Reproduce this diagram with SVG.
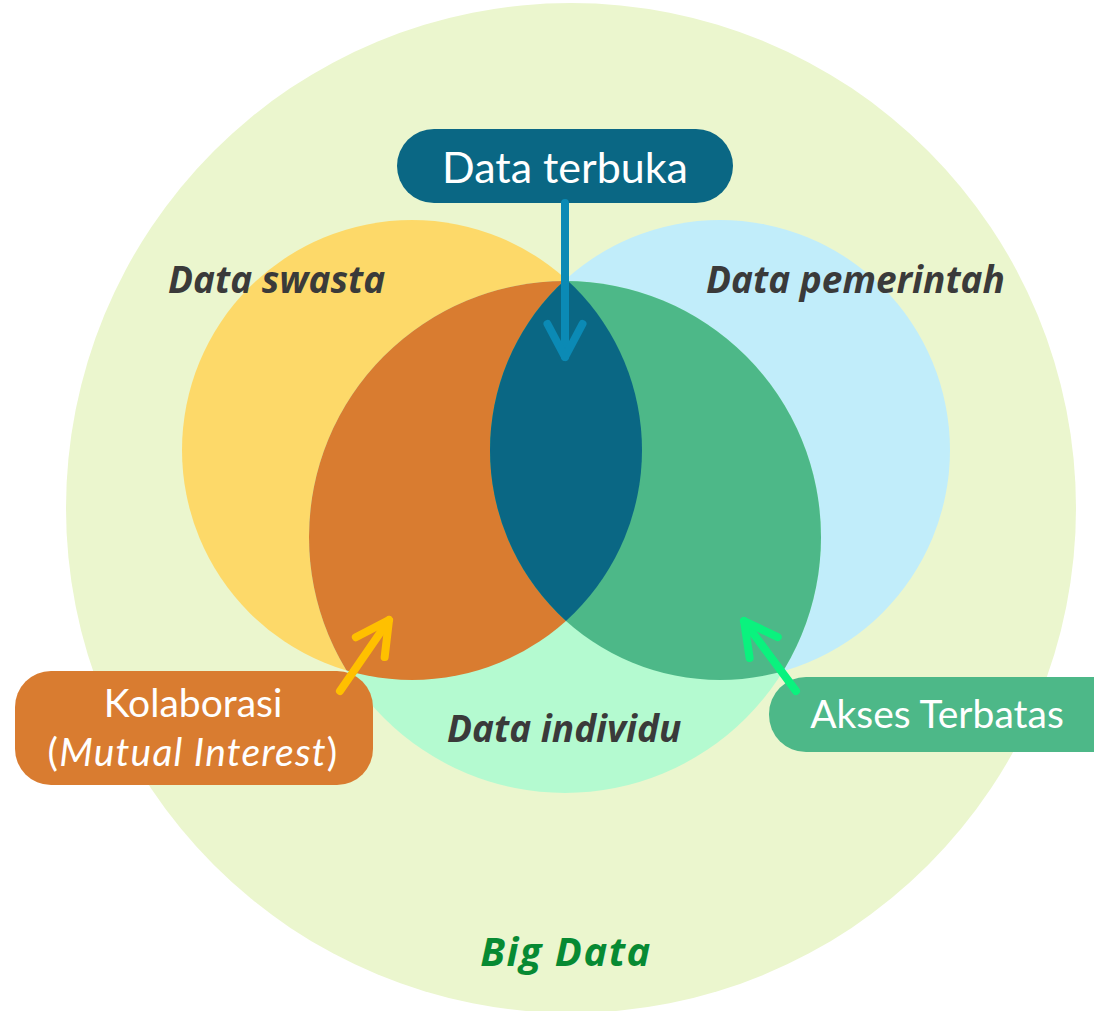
<svg xmlns="http://www.w3.org/2000/svg" width="1094" height="1011" viewBox="0 0 1094 1011">
<style>
.set{font-family:"Open Sans",Lato,"Liberation Sans",sans-serif;font-weight:700;font-style:italic;fill:#3a3a3a;font-size:37px}
.big{font-size:40px;fill:#078a33;letter-spacing:1.5px}
.lbl{font-family:Lato,"Open Sans","Liberation Sans",sans-serif;fill:#ffffff;text-anchor:middle}
.arr{fill:none;stroke-width:8;stroke-linecap:round;stroke-linejoin:round}
</style>
<defs>
<clipPath id="clipYellow"><circle cx="412" cy="450" r="230"/></clipPath>
<clipPath id="clipBlue"><circle cx="720" cy="450" r="230"/></clipPath>
<marker id="mTeal" markerUnits="userSpaceOnUse" viewBox="-45 -25 50 50" markerWidth="50" markerHeight="50" refX="0" refY="0" orient="auto" overflow="visible"><path d="M-33,-17.5 L0,0 L-33,17.5" fill="none" stroke="#0b8ab5" stroke-width="8" stroke-linecap="round" stroke-linejoin="round"/></marker>
<marker id="mYellow" markerUnits="userSpaceOnUse" viewBox="-45 -25 50 50" markerWidth="50" markerHeight="50" refX="0" refY="0" orient="auto" overflow="visible"><path d="M-33,-17.5 L0,0 L-33,17.5" fill="none" stroke="#ffc000" stroke-width="8" stroke-linecap="round" stroke-linejoin="round"/></marker>
<marker id="mGreen" markerUnits="userSpaceOnUse" viewBox="-45 -25 50 50" markerWidth="50" markerHeight="50" refX="0" refY="0" orient="auto" overflow="visible"><path d="M-33,-17.5 L0,0 L-33,17.5" fill="none" stroke="#0af27e" stroke-width="8" stroke-linecap="round" stroke-linejoin="round"/></marker>
</defs>
<rect width="1094" height="1011" fill="#ffffff"/>
<g id="big-data">
<circle cx="571" cy="508" r="505" fill="#ebf6ce"/>
</g>
<g id="data-swasta">
<circle cx="412" cy="450" r="230" fill="#fdd969"/>
</g>
<g id="data-pemerintah">
<circle cx="720" cy="450" r="230" fill="#c1edfa"/>
</g>
<g id="data-individu">
<circle cx="565" cy="537" r="256" fill="#b4fad0"/>
</g>
<g id="kolaborasi-area">
<circle cx="565" cy="537" r="256" fill="#d97c30" clip-path="url(#clipYellow)"/>
</g>
<g id="akses-area">
<circle cx="565" cy="537" r="256" fill="#4db888" clip-path="url(#clipBlue)"/>
</g>
<g id="terbuka-area">
<circle cx="412" cy="450" r="230" fill="#0a6784" clip-path="url(#clipBlue)"/>
</g>
<g id="set-labels">
<text class="set" x="168" y="293">Data swasta</text>
<text class="set" x="706" y="293">Data pemerintah</text>
<text class="set" x="447" y="742">Data individu</text>
<text class="set big" x="566" y="966" text-anchor="middle">Big Data</text>
</g>
<g id="node-data-terbuka">
<rect x="397" y="129" width="336" height="74" rx="37" fill="#0a6784"/>
<text class="lbl" x="565" y="183" font-size="43">Data terbuka</text>
</g>
<g id="node-kolaborasi">
<rect x="15" y="671" width="358" height="114" rx="36" fill="#d97c30"/>
<text class="lbl" x="193" y="717" font-size="39">Kolaborasi</text>
<text class="lbl" x="193" y="766" font-size="39" letter-spacing="1.2">(<tspan font-style="italic">Mutual Interest</tspan>)</text>
</g>
<g id="node-akses-terbatas">
<rect x="769" y="677" width="360" height="75" rx="37" fill="#4db888"/>
<text class="lbl" x="937" y="728" font-size="39">Akses Terbatas</text>
</g>
<g id="connectors">
<path class="arr" d="M565,203 L565,357" stroke="#0b8ab5" marker-end="url(#mTeal)"/>
<path class="arr" d="M340,691 L389,620" stroke="#ffc000" marker-end="url(#mYellow)"/>
<path class="arr" d="M796,691 L744,621" stroke="#0af27e" marker-end="url(#mGreen)"/>
</g>
</svg>
